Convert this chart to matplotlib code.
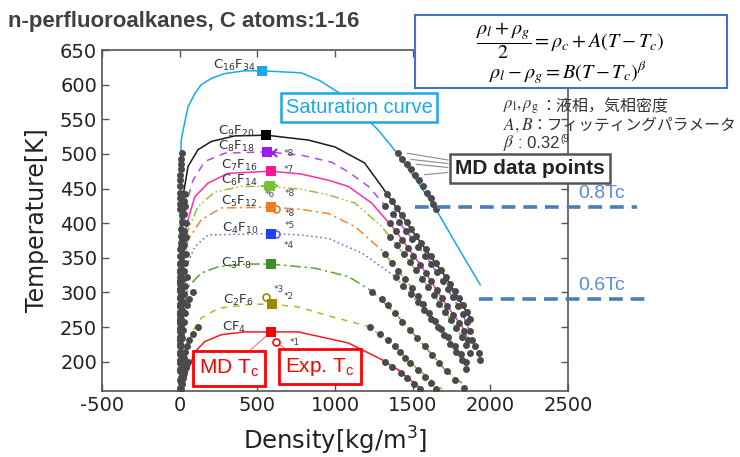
import matplotlib.pyplot as plt
from matplotlib.patches import Rectangle
from matplotlib.lines import Line2D
from matplotlib.transforms import blended_transform_factory

plt.rcParams['axes.unicode_minus'] = False

W, H = 740, 457

# ---------------- data ----------------
names = ['C$_{16}$F$_{34}$', 'C$_{9}$F$_{20}$', 'C$_{8}$F$_{18}$', 'C$_{7}$F$_{16}$',
         'C$_{6}$F$_{14}$', 'C$_{5}$F$_{12}$', 'C$_{4}$F$_{10}$', 'C$_{3}$F$_{8}$',
         'C$_{2}$F$_{6}$', 'CF$_{4}$']
# MD critical points
tc_rho = [530, 559, 565, 587, 581, 587, 591, 585, 597, 587]
tc_T = [620, 527, 503, 475, 453, 423, 385, 341, 283, 243]

# saturation curves (density, temperature)
c16_rho = [3, 4, 6, 8, 10, 32, 54, 97, 139, 204, 290, 419, 530, 783, 900, 1020, 1150, 1280, 1400, 1520, 1645, 1800, 1935]
c16_T = [310, 400, 470, 505, 520, 545, 568, 587, 600, 609, 616, 620, 620, 617, 606, 589, 563, 534, 501, 463, 422, 362, 311]
c9_rho = [3, 6, 12, 21, 54, 118, 204, 355, 559, 828, 1000, 1190, 1301, 1494, 1710, 1871]
c9_T = [263, 330, 400, 438, 482, 506, 518, 526, 527, 520, 510, 487, 453, 390, 323, 263]
c8_rho = [4, 8, 18, 43, 86, 161, 290, 565, 785, 978, 1086, 1215, 1387, 1602, 1817, 1871]
c8_T = [241, 330, 390, 429, 462, 489, 501, 503, 498, 488, 474, 453, 409, 347, 272, 241]
c7_rho = [3, 8, 25, 54, 97, 183, 312, 587, 780, 957, 1086, 1236, 1387, 1559, 1710, 1817, 1849]
c7_T = [236, 320, 375, 405, 438, 458, 472, 475, 471, 462, 453, 429, 390, 337, 284, 251, 236]
c6_rho = [3, 8, 25, 54, 118, 226, 397, 581, 780, 957, 1129, 1301, 1473, 1645, 1774, 1839]
c6_T = [227, 300, 360, 390, 424, 445, 453, 453, 449, 441, 429, 395, 347, 294, 251, 227]
c5_rho = [3, 8, 25, 54, 139, 268, 587, 780, 957, 1129, 1301, 1473, 1623, 1774, 1820]
c5_T = [205, 280, 345, 376, 405, 422, 423, 420, 414, 395, 361, 313, 265, 222, 205]
c4_rho = [3, 8, 20, 43, 97, 183, 591, 780, 957, 1172, 1387, 1559, 1710, 1817, 1839]
c4_T = [193, 260, 310, 337, 366, 383, 385, 383, 378, 357, 323, 279, 236, 203, 193]
c3_rho = [3, 10, 25, 54, 139, 247, 441, 585, 871, 1086, 1236, 1387, 1559, 1710, 1817]
c3_T = [169, 230, 280, 308, 328, 337, 341, 341, 335, 323, 302, 270, 227, 188, 169]
c2_rho = [10, 30, 75, 139, 247, 462, 597, 763, 978, 1215, 1387, 1537, 1645, 1690]
c2_T = [160, 200, 241, 263, 277, 283, 283, 279, 265, 251, 222, 188, 169, 160]
cf4_rho = [20, 50, 97, 161, 268, 419, 587, 763, 1086, 1301, 1408, 1537, 1570]
cf4_T = [160, 185, 214, 229, 239, 243, 243, 243, 227, 203, 188, 164, 158]

# MD data points: temperature, liquid density, gas density
md16_T = [501, 492, 485, 478, 470, 462, 453, 444, 436, 428, 420]
md16_l = [1404, 1430, 1462, 1490, 1516, 1542, 1565, 1591, 1617, 1633, 1649]
md16_g = [12, 10, 8, 6, 5, 4, 3, 3, 2, 2, 1]
md9_T = [442, 432, 422, 412, 402, 392, 382, 372, 362, 352, 342, 332, 322, 312, 302, 292, 282, 272, 262]
md9_l = [1333, 1365, 1398, 1430, 1461, 1492, 1522, 1553, 1585, 1617, 1648, 1680, 1712, 1742, 1772, 1800, 1826, 1850, 1871]
md9_g = [35, 28, 22, 17, 13, 10, 8, 6, 5, 4, 3, 2, 2, 1, 1, 1, 1, 0, 0]
md8_T = [425, 413, 401, 389, 377, 365, 353, 341, 329, 317, 305, 293, 281, 269, 257, 245]
md8_l = [1325, 1373, 1415, 1455, 1495, 1537, 1580, 1620, 1658, 1695, 1730, 1762, 1792, 1822, 1848, 1868]
md8_g = [35, 27, 21, 16, 12, 9, 7, 5, 4, 3, 2, 2, 1, 1, 0, 0]
md7_T = [400, 388, 376, 364, 352, 340, 328, 316, 304, 292, 280, 268, 256, 244, 232]
md7_l = [1355, 1393, 1430, 1467, 1505, 1550, 1585, 1620, 1655, 1690, 1722, 1760, 1800, 1832, 1858]
md7_g = [38, 29, 22, 17, 13, 10, 7, 5, 4, 3, 2, 1, 1, 1, 0]
md6_T = [380, 368, 356, 344, 332, 320, 308, 296, 284, 272, 260, 248, 236, 224, 212]
md6_l = [1357, 1400, 1442, 1483, 1522, 1560, 1598, 1638, 1672, 1707, 1745, 1780, 1815, 1845, 1870]
md6_g = [40, 31, 24, 18, 14, 10, 8, 6, 4, 3, 2, 2, 1, 1, 0]
md5_T = [355, 343, 331, 319, 307, 295, 283, 271, 259, 247, 235, 223, 211, 199]
md5_l = [1322, 1364, 1407, 1450, 1493, 1532, 1568, 1605, 1643, 1685, 1728, 1770, 1810, 1845]
md5_g = [42, 33, 25, 19, 14, 10, 8, 6, 4, 3, 2, 1, 1, 0]
md4_T = [322, 310, 298, 286, 274, 262, 250, 238, 226, 214, 202, 190]
md4_l = [1390, 1440, 1487, 1532, 1575, 1618, 1662, 1703, 1742, 1780, 1818, 1845]
md4_g = [45, 35, 27, 20, 15, 11, 8, 6, 4, 3, 2, 1]
md3_T = [301, 291, 282, 270, 258, 246, 234, 222, 210, 198, 186, 174, 162]
md3_l = [1240, 1300, 1340, 1387, 1432, 1480, 1530, 1578, 1622, 1668, 1718, 1775, 1830]
md3_g = [86, 62, 48, 35, 26, 19, 13, 9, 6, 4, 3, 2, 1]
md2_T = [250, 240, 231, 222, 214, 206, 198, 188, 178, 169, 160]
md2_l = [1226, 1290, 1340, 1387, 1420, 1452, 1484, 1535, 1578, 1615, 1650]
md2_g = [118, 85, 62, 46, 35, 26, 19, 13, 9, 6, 4]
md1_T = [200, 193, 184, 176, 168, 161]
md1_l = [1320, 1365, 1425, 1465, 1510, 1550]
md1_g = [55, 40, 28, 20, 14, 9]
# lowest-temperature liquid points at the far right
mdx_T = [231, 222, 212, 202]
mdx_l = [1882, 1903, 1925, 1935]

# experimental critical points and reference marks
exp_rho = [602, 548, 613, 617, 623, 559, 617]
exp_T = [501, 453, 453, 421, 384, 293, 229]
ref_text = ['*8', '*7', '*6', '*8', '*8', '*5', '*4', '*3', '*2', '*1']

frac_labels = ['0.8Tc', '0.6Tc']
frac_T = [423, 290]

# ---------------- styles ----------------
line_colors = ['#1aa7ec', '#1a1a1a', '#a84cff', '#ff2fa8', '#8cc540',
               '#f5862d', '#6060ff', '#5ba22f', '#bfae2a', '#ff1a1a']
sq_colors = ['#1aa7ec', '#000000', '#9b1fe8', '#ff1493', '#7cbf3a',
             '#f07d20', '#2040ff', '#3a8f2a', '#9a8a00', '#ff0000']
line_styles = ['-', '-', (0, (5, 4)), '-', (0, (6, 2, 1, 2, 1, 2)),
               (0, (6, 2.5, 1.5, 2.5)), (0, (1, 2)), (0, (7, 2.5, 1.5, 2.5)),
               (0, (4, 4)), '-']
exp_markers = ['x', '+', '>', 'o', 'o', 'o', 'o']
exp_colors = ['#9b1fe8', '#7cbf3a', '#7cbf3a', '#f07d20', '#6060ff', '#9a8a00', '#ff0000']

label_pos = [(486, 628), (479, 533), (479, 511), (499, 484), (499, 461),
             (499, 432), (505, 393), (460, 342), (473, 288), (428, 249)]
ref_pos = [(667, 501), (667, 477), (548, 441), (677, 443), (677, 414),
           (677, 397), (673, 368), (608, 304), (673, 294), (710, 228)]

curves = [(c16_rho, c16_T), (c9_rho, c9_T), (c8_rho, c8_T), (c7_rho, c7_T),
          (c6_rho, c6_T), (c5_rho, c5_T), (c4_rho, c4_T), (c3_rho, c3_T),
          (c2_rho, c2_T), (cf4_rho, cf4_T)]
md_sets = [(md16_T, md16_l, md16_g), (md9_T, md9_l, md9_g), (md8_T, md8_l, md8_g),
           (md7_T, md7_l, md7_g), (md6_T, md6_l, md6_g), (md5_T, md5_l, md5_g),
           (md4_T, md4_l, md4_g), (md3_T, md3_l, md3_g), (md2_T, md2_l, md2_g),
           (md1_T, md1_l, md1_g)]


def fp(x, y):
    # pixel position measured from the top-left corner -> figure fraction
    return x / W, 1 - y / H


fig = plt.figure(figsize=(W / 100, H / 100), dpi=100)
ax = fig.add_axes([102 / W, 1 - 391 / H, (568 - 102) / W, (391 - 50) / H])

for (rho, T), c, ls in zip(curves, line_colors, line_styles):
    ax.plot(rho, T, color=c, lw=1.1, linestyle=ls, zorder=2)

for T, liq, gas in md_sets:
    ax.plot(liq, T, 'o', ms=5, color='#4a4a4a', mew=0, zorder=4)
    ax.plot(gas, T, 'o', ms=5, color='#4a4a4a', mew=0, zorder=4)
ax.plot(mdx_l, mdx_T, 'o', ms=5, color='#4a4a4a', mew=0, zorder=4)

for r, t, m, c in zip(exp_rho, exp_T, exp_markers, exp_colors):
    if m in ('o', '>'):
        ax.plot(r, t, m, ms=5, mfc='white', mec=c, mew=1.2, zorder=5)
    else:
        ax.plot(r, t, m, ms=6, color=c, mew=1.5, zorder=5)

for r, t, c in zip(tc_rho, tc_T, sq_colors):
    ax.plot(r, t, 's', ms=6.5, color=c, mew=0, zorder=6)

for name, (lx, ly) in zip(names, label_pos):
    ax.text(lx, ly, name, ha='right', va='center', fontsize=9.5, color='#333333')

for txt, (rx, ry) in zip(ref_text, ref_pos):
    ax.text(rx, ry, txt, ha='left', va='center', fontsize=6.5, color='#444444')

ax.set_xlim(-500, 2500)
ax.set_ylim(157.7, 650)
ax.set_xticks(range(-500, 2501, 500))
ax.set_yticks(range(200, 651, 50))
ax.tick_params(direction='in', top=True, right=True, length=5, width=1,
               colors='#555555', labelcolor='#222222', labelsize=14)
for s in ax.spines.values():
    s.set_color('#555555')
    s.set_linewidth(1.2)
ax.set_xlabel('Density[kg/m$^3$]', fontsize=17.5, color='#222222', labelpad=7)
ax.set_ylabel('Temperature[K]', fontsize=17, color='#222222', labelpad=8)

# title
fig.text(*fp(8, 22), 'n-perfluoroalkanes, C atoms:1-16', fontsize=16, fontweight='bold',
         family='Liberation Sans', color='#404040', va='center')

# equation box
x0, y0 = fp(415, 88)
fig.add_artist(Rectangle((x0, y0), (727 - 415) / W, (88 - 15) / H, transform=fig.transFigure,
                         facecolor='white', edgecolor='#4472c4', lw=1.5, zorder=5))
fig.text(*fp(570, 41), r'$\dfrac{\rho_l+\rho_g}{2}=\rho_c+A(T-T_c)$', math_fontfamily='stix',
         fontsize=14.5, ha='center', va='center', zorder=6)
fig.text(*fp(568, 73), r'$\rho_l-\rho_g=B(T-T_c)^\beta$', math_fontfamily='stix',
         fontsize=14.5, ha='center', va='center', zorder=6)

jp = ['Noto Sans CJK JP', 'DejaVu Sans']
fig.text(*fp(503, 107), r'$\rho_\mathrm{l},\rho_\mathrm{g}$', math_fontfamily='stix',
         fontsize=12, va='center', color='#333333')
fig.text(*fp(540, 107), '：液相，気相密度', family=jp, fontsize=11.5, va='center', color='#333333')
fig.text(*fp(503, 125), r'$A,B$', math_fontfamily='stix', fontsize=12.5, va='center', color='#333333')
fig.text(*fp(531, 125), '：フィッティングパラメータ', family=jp, fontsize=11.3, va='center',
         color='#333333')
fig.text(*fp(503, 143), r'$\beta$', math_fontfamily='stix', fontsize=12.5, va='center', color='#333333')
fig.text(*fp(518, 143), ': 0.32', family='Liberation Sans', fontsize=12, va='center', color='#333333')
fig.text(*fp(560, 139), '(9', family='Liberation Sans', fontsize=7, va='center', color='#333333')

# call-out boxes
fig.text(*fp(359, 107.5), 'Saturation curve', color='#1aa7ec', fontsize=14.5, family='Liberation Sans',
         ha='center', va='center',
         bbox=dict(boxstyle='square,pad=0.25', fc='white', ec='#1aa7ec', lw=1.8))
fig.text(*fp(530, 168.5), 'MD data points', color='#222222', fontsize=15, fontweight='bold',
         family='Liberation Sans', ha='center', va='center',
         bbox=dict(boxstyle='square,pad=0.25', fc='white', ec='#555555', lw=1.8))
for i, ys in zip([0, 1, 2, 4], [160, 163.5, 167.5, 172.5]):
    ax.annotate('', xy=(md16_l[i] + 60, md16_T[i]), xytext=(448, H - ys),
                textcoords='figure pixels',
                arrowprops=dict(arrowstyle='-', color='#8a8a8a', lw=0.8, shrinkA=0, shrinkB=0))

fig.text(*fp(229, 368.5), r'MD T$_\mathdefault{c}$', color='red', fontsize=15, family='Liberation Sans',
         ha='center', va='center',
         bbox=dict(boxstyle='square,pad=0.3', fc='white', ec='red', lw=2))
fig.text(*fp(320, 366.5), r'Exp. T$_\mathdefault{c}$', color='red', fontsize=15, family='Liberation Sans',
         ha='center', va='center',
         bbox=dict(boxstyle='square,pad=0.3', fc='white', ec='red', lw=2))
ax.annotate('', xy=(tc_rho[-1], tc_T[-1]), xytext=(248, H - 352), textcoords='figure pixels',
            arrowprops=dict(arrowstyle='-', color='#ff7070', lw=0.8, shrinkA=0, shrinkB=3))
ax.annotate('', xy=(exp_rho[-1], exp_T[-1]), xytext=(287, H - 350), textcoords='figure pixels',
            arrowprops=dict(arrowstyle='-', color='#ff7070', lw=0.8, shrinkA=0, shrinkB=3))

# reduced temperature guide lines
blend = blended_transform_factory(fig.transFigure, ax.transData)
for lab, t, (xa, xb) in zip(frac_labels, frac_T, [(415, 637), (479, 645)]):
    fig.add_artist(Line2D([xa / W, xb / W], [t, t], transform=blend, color='#4a7ebb',
                          lw=2.6, dashes=(3.8, 2.2), zorder=4))
    fig.text(578 / W, t + 20, lab, transform=blend, color='#5b8bd0', fontsize=14,
             family='Liberation Sans', va='center')

fig.savefig('out.png', dpi=100, facecolor='white')
